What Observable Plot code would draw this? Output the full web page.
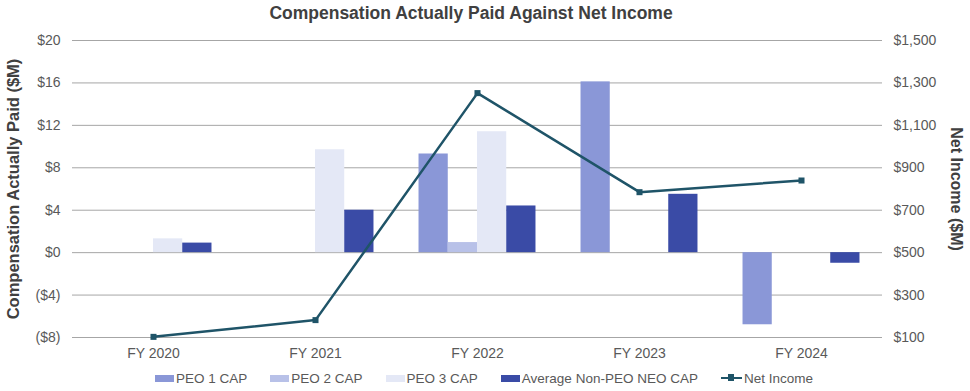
<!DOCTYPE html>
<html>
<head>
<meta charset="utf-8">
<script src="https://cdn.jsdelivr.net/npm/d3@7"></script>
<script src="https://cdn.jsdelivr.net/npm/@observablehq/plot@0.6"></script>
<style>
  html, body { margin: 0; padding: 0; background: #fff; }
  body { width: 970px; height: 391px; overflow: hidden; font-family: "Liberation Sans", Arial, sans-serif; }
  #title { height: 30px; position: relative; }
  #title span { position: absolute; left: 0; width: 942px; top: 3px; text-align: center; font-weight: bold; font-size: 17.5px; color: #404040; }
  #chart { height: 335px; }
  #legend { height: 26px; display: flex; align-items: center; padding-left: 155px; font-size: 13.5px; color: #595959; }
  .item { display: flex; align-items: center; margin-right: 23px; }
  .sw { width: 19px; height: 7px; margin-right: 2px; }
  .ln { width: 21px; height: 2.5px; background: #1F5468; position: relative; margin-right: 2px; }
  .ln::after { content: ""; position: absolute; left: 7.5px; top: -2.5px; width: 6px; height: 7px; background: #1F5468; }
</style>
</head>
<body>
<div id="title"><span>Compensation Actually Paid Against Net Income</span></div>
<div id="chart"></div>
<div id="legend"></div>
<script>
// ---- data ----
const years = ["FY 2020", "FY 2021", "FY 2022", "FY 2023", "FY 2024"];
const peo1Cap = [null, null, 9.3, 16.1, -6.8];
const peo2Cap = [null, null, 0.95, null, null];
const peo3Cap = [1.3, 9.7, 11.4, null, null];
const avgNeoCap = [0.9, 4.0, 4.4, 5.5, -1.0];
const netIncome = [103, 182, 1252, 785, 840];
const leftTicks = [-8, -4, 0, 4, 8, 12, 16, 20];
const rightTicks = [100, 300, 500, 700, 900, 1100, 1300, 1500];
const seriesNames = ["PEO 1 CAP", "PEO 2 CAP", "PEO 3 CAP", "Average Non-PEO NEO CAP"];
const seriesColors = ["#8A97D7", "#B8C1E8", "#E4E8F6", "#3A4BA6"];
const lineName = "Net Income";
const lineColor = "#1F5468";

// ---- helpers ----
const leftDomain = [-8, 20];
const rightDomain = [100, 1500];
const toLeft = v => leftDomain[0] + (v - rightDomain[0]) / (rightDomain[1] - rightDomain[0]) * (leftDomain[1] - leftDomain[0]);
const fromLeft = v => rightDomain[0] + (v - leftDomain[0]) / (leftDomain[1] - leftDomain[0]) * (rightDomain[1] - rightDomain[0]);
const fmtLeft = d => d < 0 ? `($${-d})` : `$${d}`;
const fmtRight = d => "$" + d3.format(",")(Math.round(fromLeft(d)));

const allSeries = [peo1Cap, peo2Cap, peo3Cap, avgNeoCap];
const width = 970, marginLeft = 72, marginRight = 88;
const bandwidth = (width - marginLeft - marginRight) / years.length;
const groupFrac = 0.722;
const barW = bandwidth * groupFrac / allSeries.length;
const groupStart = bandwidth * (1 - groupFrac) / 2;

const barMarks = allSeries.map((vals, i) => {
  const rows = years.map((y, j) => ({year: y, v: vals[j]})).filter(d => d.v != null);
  const insetLeft = groupStart + barW * i;
  const insetRight = bandwidth - insetLeft - barW;
  return Plot.barY(rows, {x: "year", y: "v", fill: seriesColors[i], insetLeft, insetRight});
});

const lineRows = years.map((y, j) => ({year: y, v: toLeft(netIncome[j])}));

const chart = Plot.plot({
  width, height: 335,
  marginLeft, marginRight, marginTop: 10, marginBottom: 28,
  style: {fontFamily: '"Liberation Sans", Arial, sans-serif', fontSize: "14px", color: "#595959", background: "transparent"},
  x: {type: "band", domain: years, padding: 0},
  y: {domain: leftDomain},
  marks: [
    Plot.gridY(leftTicks, {stroke: "#A6A6A6", strokeOpacity: 1, strokeWidth: 1}),
    ...barMarks,
    Plot.line(lineRows, {x: "year", y: "v", stroke: lineColor, strokeWidth: 2.5}),
    Plot.dot(lineRows, {x: "year", y: "v", symbol: "square", r: 3.4, fill: lineColor, stroke: "none"}),
    Plot.axisX({tickSize: 0, tickPadding: 11, label: null, fontSize: 14}),
    Plot.axisY({anchor: "left", ticks: leftTicks, tickFormat: fmtLeft, tickSize: 0, tickPadding: 12, label: null}),
    Plot.axisY({anchor: "right", ticks: rightTicks.map(toLeft), tickFormat: fmtRight, tickSize: 0, tickPadding: 11, label: null}),
    Plot.text(["Compensation Actually Paid ($M)"], {frameAnchor: "left", textAnchor: "middle", dx: -59, rotate: -90, fontWeight: "bold", fontSize: 16.5, fill: "#404040"}),
    Plot.text(["Net Income ($M)"], {frameAnchor: "right", textAnchor: "middle", dx: 74, rotate: 90, fontWeight: "bold", fontSize: 16, fill: "#404040"})
  ]
});
document.getElementById("chart").appendChild(chart);

// ---- legend ----
const legend = document.getElementById("legend");
seriesNames.forEach((name, i) => {
  const it = document.createElement("div");
  it.className = "item";
  it.innerHTML = `<div class="sw" style="background:${seriesColors[i]}"></div><span>${name}</span>`;
  legend.appendChild(it);
});
const li = document.createElement("div");
li.className = "item";
li.innerHTML = `<div class="ln"></div><span>${lineName}</span>`;
legend.appendChild(li);
</script>
</body>
</html>
